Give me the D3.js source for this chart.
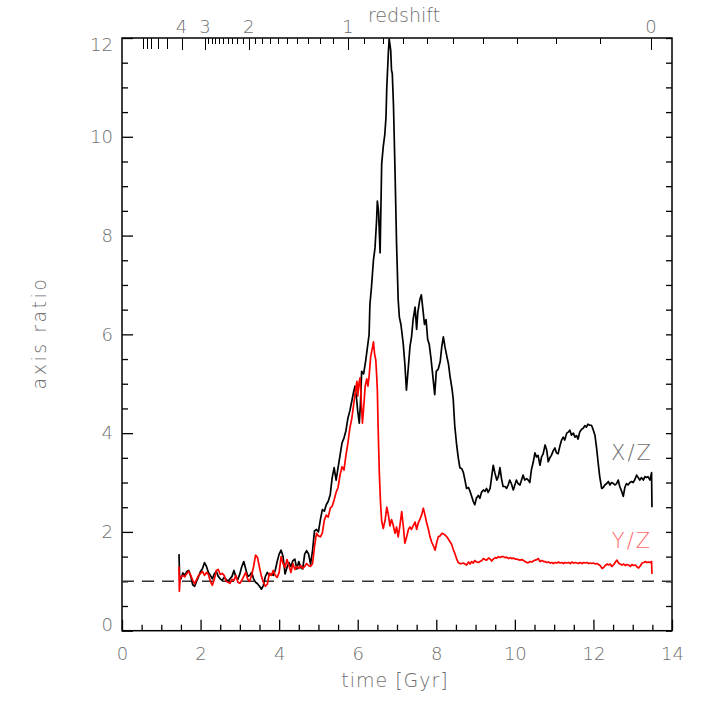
<!DOCTYPE html>
<html>
<head>
<meta charset="utf-8">
<script src="https://cdn.jsdelivr.net/npm/d3@7"></script>
<style>
  body { margin: 0; background: #fff; }
  text { font-family: "DejaVu Sans", sans-serif; font-weight: 200; fill: #6e6e6e; }
</style>
</head>
<body>
<script>
// X/Z axis ratio vs cosmic time
var xzTime = [1.45,1.47,1.50,1.55,1.60,1.65,1.70,1.75,1.80,1.85,1.90,1.95,2.00,2.05,2.10,2.15,2.20,2.25,2.30,2.35,2.40,2.45,2.50,2.55,2.60,2.65,2.70,2.75,2.80,2.85,2.90,2.95,3.00,3.05,3.10,3.15,3.20,3.25,3.30,3.35,3.40,3.45,3.50,3.55,3.60,3.65,3.70,3.75,3.80,3.85,3.90,3.95,4.00,4.05,4.10,4.15,4.20,4.25,4.30,4.35,4.40,4.45,4.50,4.55,4.60,4.65,4.70,4.75,4.80,4.85,4.90,4.95,5.00,5.05,5.10,5.15,5.20,5.25,5.30,5.35,5.40,5.45,5.50,5.55,5.60,5.65,5.70,5.75,5.80,5.85,5.90,5.93,5.97,6.00,6.04,6.07,6.10,6.15,6.20,6.25,6.29,6.31,6.35,6.40,6.44,6.48,6.50,6.53,6.57,6.61,6.65,6.69,6.72,6.74,6.78,6.80,6.84,6.86,6.88,6.91,6.95,6.99,7.03,7.06,7.10,7.16,7.20,7.24,7.29,7.33,7.37,7.41,7.46,7.50,7.53,7.58,7.62,7.66,7.70,7.74,7.78,7.82,7.86,7.90,7.96,8.00,8.05,8.10,8.14,8.18,8.22,8.27,8.31,8.35,8.40,8.43,8.47,8.52,8.56,8.60,8.65,8.69,8.73,8.77,8.82,8.86,8.90,8.94,8.98,9.02,9.07,9.11,9.15,9.20,9.24,9.28,9.32,9.37,9.41,9.45,9.49,9.54,9.58,9.62,9.66,9.70,9.75,9.79,9.83,9.87,9.91,9.96,10.00,10.04,10.08,10.13,10.17,10.21,10.25,10.30,10.34,10.38,10.42,10.47,10.51,10.55,10.59,10.64,10.68,10.72,10.77,10.81,10.85,10.89,10.93,10.98,11.02,11.06,11.10,11.15,11.19,11.23,11.27,11.32,11.36,11.40,11.44,11.49,11.53,11.57,11.61,11.65,11.70,11.74,11.78,11.82,11.86,11.91,11.95,11.99,12.04,12.08,12.12,12.16,12.21,12.25,12.29,12.34,12.38,12.42,12.46,12.51,12.55,12.59,12.63,12.67,12.72,12.76,12.80,12.84,12.88,12.93,12.97,13.01,13.05,13.10,13.14,13.18,13.22,13.27,13.31,13.35,13.39,13.44,13.48,13.49];
var xzRatio = [1.55,1.02,1.05,1.17,1.12,1.20,1.22,1.10,0.93,0.90,1.00,1.10,1.20,1.26,1.38,1.30,1.18,1.12,1.05,1.15,1.20,1.10,1.05,1.02,1.08,1.04,1.00,1.05,1.10,1.22,1.08,1.04,1.15,1.30,1.40,1.25,1.10,1.12,1.18,1.05,0.98,0.95,0.90,0.84,0.92,1.10,1.18,1.12,1.15,1.12,1.22,1.40,1.55,1.63,1.50,1.15,1.28,1.38,1.30,1.42,1.45,1.25,1.40,1.28,1.25,1.55,1.62,1.55,1.35,1.62,2.02,2.05,2.00,2.25,2.45,2.42,2.55,2.62,2.75,3.10,3.30,3.05,3.30,3.55,3.80,3.90,4.05,4.30,4.45,4.65,4.85,4.95,4.70,4.45,4.20,4.60,5.25,5.20,5.45,5.75,6.00,6.60,6.95,7.50,7.75,8.30,8.70,8.50,7.65,9.45,9.80,10.05,10.40,11.00,11.70,11.98,11.75,11.35,11.28,10.65,9.30,7.80,6.70,6.35,6.20,5.80,5.40,4.87,5.35,5.75,5.95,6.30,6.55,6.10,6.45,6.70,6.80,6.50,6.20,6.30,5.90,5.80,5.55,5.25,4.78,5.25,5.30,5.45,5.75,5.95,5.75,5.55,5.40,5.15,4.90,4.70,4.15,3.75,3.50,3.30,3.28,3.20,3.05,2.88,2.90,2.82,2.72,2.62,2.55,2.68,2.74,2.68,2.80,2.85,2.82,2.88,2.80,2.88,3.12,3.35,3.20,3.05,3.12,3.30,3.08,2.92,2.92,2.88,2.95,3.05,2.98,2.85,2.95,3.05,2.98,2.95,3.05,3.15,3.05,3.08,3.05,3.00,3.25,3.42,3.60,3.52,3.55,3.35,3.52,3.58,3.76,3.66,3.42,3.50,3.55,3.65,3.70,3.60,3.58,3.75,3.86,3.92,3.86,4.00,4.02,4.06,3.96,4.00,3.92,3.95,3.88,4.02,4.08,4.10,4.15,4.12,4.18,4.16,4.16,4.08,3.95,3.70,3.40,3.12,2.88,2.90,2.95,2.98,3.02,2.95,3.00,2.98,2.95,2.98,3.05,2.92,2.82,2.72,2.90,2.98,2.95,3.00,3.02,3.00,3.05,3.15,3.10,3.05,3.10,3.05,3.12,3.10,3.12,3.05,3.20,2.50];

// Y/Z axis ratio vs cosmic time
var yzTime = [1.45,1.46,1.48,1.50,1.55,1.60,1.65,1.70,1.75,1.80,1.85,1.90,1.95,2.00,2.05,2.10,2.15,2.20,2.25,2.30,2.35,2.40,2.45,2.50,2.55,2.60,2.65,2.70,2.75,2.80,2.85,2.90,2.95,3.00,3.05,3.10,3.15,3.20,3.25,3.30,3.35,3.40,3.45,3.50,3.55,3.60,3.65,3.70,3.75,3.80,3.85,3.90,3.95,4.00,4.05,4.10,4.15,4.20,4.25,4.30,4.35,4.40,4.45,4.50,4.55,4.60,4.65,4.70,4.75,4.80,4.85,4.90,4.95,5.00,5.05,5.10,5.15,5.20,5.25,5.30,5.35,5.40,5.45,5.50,5.55,5.60,5.65,5.70,5.75,5.80,5.85,5.90,5.95,5.98,6.00,6.03,6.06,6.09,6.12,6.15,6.19,6.23,6.26,6.29,6.33,6.38,6.40,6.43,6.46,6.48,6.50,6.52,6.55,6.58,6.61,6.65,6.70,6.74,6.78,6.82,6.86,6.90,6.95,6.99,7.03,7.07,7.12,7.16,7.20,7.24,7.29,7.33,7.37,7.41,7.46,7.50,7.54,7.58,7.63,7.67,7.71,7.75,7.80,7.84,7.88,7.92,7.97,8.01,8.05,8.10,8.14,8.18,8.22,8.27,8.31,8.35,8.39,8.43,8.47,8.52,8.56,8.60,8.65,8.69,8.73,8.77,8.82,8.86,8.90,8.94,8.98,9.03,9.07,9.11,9.16,9.20,9.24,9.28,9.33,9.37,9.41,9.45,9.50,9.54,9.58,9.62,9.67,9.71,9.75,9.79,9.84,9.88,9.92,9.96,10.01,10.05,10.09,10.13,10.18,10.22,10.26,10.30,10.35,10.39,10.43,10.47,10.52,10.56,10.60,10.64,10.69,10.73,10.77,10.81,10.86,10.90,10.94,10.98,11.03,11.07,11.11,11.15,11.20,11.24,11.28,11.32,11.37,11.41,11.45,11.49,11.54,11.58,11.62,11.66,11.71,11.75,11.79,11.83,11.88,11.92,11.96,12.00,12.05,12.09,12.13,12.17,12.22,12.26,12.30,12.35,12.39,12.43,12.47,12.52,12.56,12.60,12.64,12.68,12.73,12.77,12.81,12.85,12.90,12.94,12.98,13.02,13.07,13.11,13.15,13.19,13.24,13.28,13.32,13.36,13.40,13.44,13.48,13.49];
var yzRatio = [1.30,0.80,1.05,1.09,1.12,1.09,1.16,1.20,1.12,1.02,0.95,1.04,1.12,1.16,1.20,1.12,1.18,1.14,1.00,0.92,1.04,1.22,1.24,1.14,1.16,1.12,1.00,0.98,0.96,1.04,1.02,1.12,0.98,0.96,1.02,1.10,1.18,1.04,1.00,1.12,1.30,1.53,1.48,1.28,1.10,0.98,0.90,0.94,1.16,1.12,1.22,1.12,1.08,1.18,1.50,1.36,1.28,1.44,1.32,1.18,1.36,1.24,1.30,1.26,1.32,1.26,1.30,1.36,1.32,1.30,1.36,1.70,1.97,1.92,1.90,1.98,2.24,2.34,2.30,2.48,2.52,2.65,2.80,2.90,3.15,3.32,3.25,3.55,3.80,4.10,4.30,4.60,4.90,5.05,4.75,5.00,5.12,4.65,4.20,4.50,4.95,5.10,4.95,5.15,5.55,5.75,5.85,5.60,5.48,5.20,4.87,4.10,3.20,2.60,2.22,2.07,2.25,2.50,2.35,2.12,2.25,2.15,1.97,2.10,1.90,2.10,2.41,2.12,1.77,1.88,2.05,2.10,2.05,2.12,2.20,2.05,2.18,2.25,2.35,2.48,2.35,2.20,2.05,1.90,1.80,1.73,1.63,1.78,1.90,1.92,1.97,1.96,1.94,1.90,1.85,1.80,1.75,1.65,1.57,1.45,1.38,1.36,1.36,1.37,1.35,1.33,1.39,1.35,1.40,1.37,1.42,1.39,1.38,1.40,1.42,1.46,1.44,1.43,1.47,1.45,1.41,1.45,1.48,1.47,1.50,1.48,1.50,1.50,1.48,1.49,1.46,1.48,1.46,1.47,1.45,1.45,1.44,1.43,1.44,1.42,1.40,1.38,1.38,1.40,1.39,1.41,1.43,1.44,1.46,1.40,1.42,1.40,1.40,1.38,1.39,1.37,1.38,1.36,1.38,1.37,1.39,1.37,1.38,1.36,1.38,1.37,1.38,1.36,1.39,1.37,1.38,1.37,1.36,1.38,1.36,1.38,1.37,1.38,1.36,1.37,1.36,1.37,1.35,1.36,1.34,1.32,1.26,1.28,1.32,1.35,1.33,1.35,1.30,1.34,1.39,1.43,1.37,1.35,1.33,1.35,1.32,1.34,1.33,1.30,1.34,1.32,1.33,1.29,1.27,1.31,1.37,1.38,1.40,1.38,1.39,1.38,1.40,1.15];

// axis ticks
var timeMajor = [0, 2, 4, 6, 8, 10, 12, 14];
var timeMinor = [0.5,1,1.5,2.5,3,3.5,4.5,5,5.5,6.5,7,7.5,8.5,9,9.5,10.5,11,11.5,12.5,13,13.5];
var ratioMajor = [0, 2, 4, 6, 8, 10, 12];
var ratioMinor = [0.5,1,1.5,2.5,3,3.5,4.5,5,5.5,6.5,7,7.5,8.5,9,9.5,10.5,11,11.5];
var zMajor = [0, 1, 2, 3, 4];
var zLong = [5, 6, 7, 8, 9];
var zMinor = [0.1,0.2,0.3,0.4,0.5,0.6,0.7,0.8,0.9,1.1,1.2,1.3,1.4,1.5,1.6,1.7,1.8,1.9,2.1,2.2,2.3,2.4,2.5,2.6,2.7,2.8,2.9];

// cosmic age in Gyr for flat LCDM (H0=70, Om=0.3)
function ageAt(z) {
  var om = 0.3, ol = 0.7, hubbleTime = 977.8 / 70;
  return 2 / 3 * hubbleTime / Math.sqrt(ol) * Math.asinh(Math.sqrt(ol / om) * Math.pow(1 + z, -1.5));
}

var W = 709, H = 709;
var svg = d3.select("body").append("svg").attr("width", W).attr("height", H);

var x = d3.scaleLinear().domain([0, 14]).range([122, 672]);
var y = d3.scaleLinear().domain([0, 12]).range([630.7, 38]);

function styleAxis(g) {
  g.select(".domain").remove();
  g.selectAll(".tick line").attr("stroke", "#000").attr("stroke-width", 1.3);
  g.selectAll(".tick text").style("font-size", "18px");
}

// bottom axis
svg.append("g").attr("transform", "translate(0," + y(0) + ")")
  .call(d3.axisBottom(x).tickValues(timeMinor).tickSize(-6).tickFormat(""))
  .call(styleAxis);
svg.append("g").attr("transform", "translate(0," + y(0) + ")")
  .call(d3.axisBottom(x).tickValues(timeMajor).tickSize(-11).tickPadding(17).tickFormat(d3.format("d")))
  .call(styleAxis);

// left axis
svg.append("g").attr("transform", "translate(" + x(0) + ",0)")
  .call(d3.axisLeft(y).tickValues(ratioMinor).tickSize(-6).tickFormat(""))
  .call(styleAxis);
var leftAxis = svg.append("g").attr("transform", "translate(" + x(0) + ",0)")
  .call(d3.axisLeft(y).tickValues(ratioMajor).tickSize(-11).tickPadding(9).tickFormat(d3.format("d")))
  .call(styleAxis);
leftAxis.selectAll(".tick text").attr("dy", function(d) {
  return d === 12 ? "0.7em" : d === 0 ? "0em" : "0.32em";
});

// right axis
svg.append("g").attr("transform", "translate(" + x(14) + ",0)")
  .call(d3.axisRight(y).tickValues(ratioMajor.concat(ratioMinor)).tickSize(-6).tickFormat(""))
  .call(styleAxis);

// top redshift axis, ticks placed at the cosmic age of each redshift
var zTicks = zMinor.map(function(z) { return {z: z, len: 6}; })
  .concat(zLong.map(function(z) { return {z: z, len: 11}; }))
  .concat(zMajor.map(function(z) { return {z: z, len: 12}; }));
function zx(z) { return Math.round(x(ageAt(z))) + 0.5; }
var topAxis = svg.append("g");
topAxis.selectAll("line.ztick").data(zTicks).enter().append("line")
  .attr("class", "ztick")
  .attr("x1", function(d) { return zx(d.z); })
  .attr("x2", function(d) { return zx(d.z); })
  .attr("y1", y(12))
  .attr("y2", function(d) { return y(12) + d.len; })
  .attr("stroke", "#000").attr("stroke-width", 1.3)
  .attr("shape-rendering", "crispEdges");
topAxis.selectAll("text.zlabel").data(zMajor).enter().append("text")
  .attr("class", "zlabel")
  .attr("x", function(d) { return x(ageAt(d)); })
  .attr("y", y(12) - 5)
  .attr("text-anchor", "middle")
  .style("font-size", "18px")
  .text(function(d) { return d; });

// frame
svg.append("rect")
  .attr("x", x(0)).attr("y", y(12))
  .attr("width", x(14) - x(0)).attr("height", y(0) - y(12))
  .attr("fill", "none").attr("stroke", "#000").attr("stroke-width", 1.5);

// reference line at ratio 1
svg.append("line")
  .attr("x1", x(0)).attr("x2", x(14)).attr("y1", y(1)).attr("y2", y(1))
  .attr("stroke", "#333").attr("stroke-width", 1.4).attr("stroke-dasharray", "12,8");

var line = d3.line().x(function(d) { return x(d[0]); }).y(function(d) { return y(d[1]); });

svg.append("path")
  .datum(d3.zip(xzTime, xzRatio))
  .attr("d", line)
  .attr("fill", "none").attr("stroke", "#000").attr("stroke-width", 1.7)
  .attr("stroke-linejoin", "round");

svg.append("path")
  .datum(d3.zip(yzTime, yzRatio))
  .attr("d", line)
  .attr("fill", "none").attr("stroke", "#ff0000").attr("stroke-width", 1.7)
  .attr("stroke-linejoin", "round");

// axis titles
svg.append("text").attr("x", 404).attr("y", 22).attr("text-anchor", "middle")
  .style("font-size", "19px").text("redshift");
svg.append("text").attr("x", 395).attr("y", 687).attr("text-anchor", "middle")
  .style("font-size", "19px").style("letter-spacing", "1px").text("time [Gyr]");
svg.append("text").attr("transform", "translate(46,333) rotate(-90)").attr("text-anchor", "middle")
  .style("font-size", "19px").style("letter-spacing", "2.5px").text("axis ratio");

// series labels
svg.append("text").attr("x", 632).attr("y", 460).attr("text-anchor", "middle")
  .style("font-size", "21px").style("letter-spacing", "2px").text("X/Z");
svg.append("text").attr("x", 632).attr("y", 548).attr("text-anchor", "middle")
  .style("font-size", "21px").style("letter-spacing", "2px").style("fill", "#ff6a6a").text("Y/Z");
</script>
</body>
</html>
